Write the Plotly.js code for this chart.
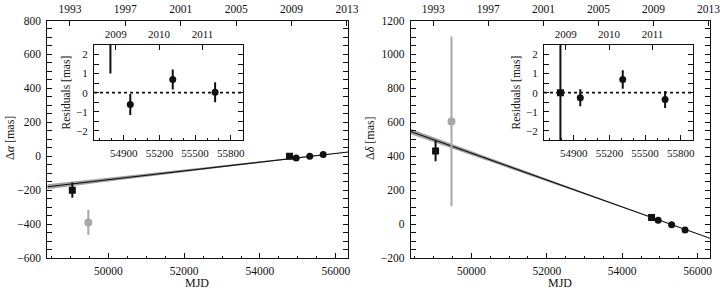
<!DOCTYPE html>
<html>
<head>
<meta charset="utf-8">
<script src="https://cdn.plot.ly/plotly-3.0.1.min.js"></script>
<style>html,body{margin:0;padding:0;background:#fff}
#page{position:relative;width:725px;height:291px;overflow:hidden}
.layer{position:absolute}</style>
</head>
<body>
<div id="page">
<div id="leftMain" class="layer" style="left:0px;top:0px;width:362px;height:291px"></div>
<div id="rightMain" class="layer" style="left:362px;top:0px;width:363px;height:291px"></div>
<div id="leftInset" class="layer" style="left:52px;top:28px;width:200px;height:134px"></div>
<div id="rightInset" class="layer" style="left:502px;top:28px;width:200px;height:134px"></div>
</div>
<script>
// ---- data ----
const squareMJD = [49050, 54780];
const circleMJD = [54955, 55312, 55668];
const grayMJD = [49472];

const squareRA = [-200, 0];
const squareRAerr = [45, 4];
const circleRA = [-10, 0, 10];
const circleRAerr = [0.5, 0.5, 0.5];
const grayRA = [-390];
const grayRAerr = [75];

const squareDE = [431, 39];
const squareDEerr = [60, 4];
const circleDE = [23, -4, -35];
const circleDEerr = [0.5, 0.5, 0.5];
const grayDE = [605];
const grayDEerr = [500];

const fitMJD = [48390, 50000, 52000, 54000, 55300, 56330];
const fitRA = [-180, -138, -87, -35, -2, 25];
const fitRAsig = [15, 11, 7, 3, 1, 1.5];
const fitDE = [546, 418, 260, 101, -2, -84];
const fitDEsig = [16, 11, 7, 3, 1, 1.5];

const resSquareMJD = [54788];
const resSquareRA = [3.8];
const resSquareRAerr = [2.8];
const resSquareDE = [0];
const resSquareDEerr = [4];
const resCircleMJD = [54955, 55312, 55668];
const resRA = [-0.62, 0.69, 0.02];
const resRAerr = [0.55, 0.53, 0.53];
const resDE = [-0.27, 0.69, -0.36];
const resDEerr = [0.45, 0.48, 0.45];

const mainYears = [1993, 1997, 2001, 2005, 2009, 2013];
const insetYears = [2009, 2010, 2011];

// ---- helpers ----
const yearToMJD = y => Date.UTC(y, 0, 1) / 86400000 + 40587;
const FONT = 'Liberation Serif';
const INK = '#111';
const GRAYPT = '#a8a8a8';

function band(xa, ya, sa) {
  const up = ya.map((v, i) => v + sa[i]);
  const lo = ya.map((v, i) => v - sa[i]);
  return {x: xa.concat(xa.slice().reverse()), y: up.concat(lo.reverse()),
    mode: 'lines', fill: 'toself', fillcolor: 'rgba(140,140,140,0.8)',
    line: {width: 0}, hoverinfo: 'skip', type: 'scatter'};
}
function pts(x, y, e, sym, size, color) {
  return {x: x, y: y, type: 'scatter', mode: 'markers',
    marker: {symbol: sym, size: size, color: color},
    error_y: {type: 'data', array: e, visible: true, color: color, thickness: 2, width: 0}};
}
const fitLine = (x, y) => ({x: x, y: y, type: 'scatter', mode: 'lines', line: {color: INK, width: 1.1}});
const topAxisTrace = {x: [], y: [], xaxis: 'x2', yaxis: 'y', type: 'scatter'};

const mainRange = [48390, 56330];
const insetRange = [54650, 55900];
const tickFont = {family: FONT, size: 11.5, color: INK};
const insetFont = {family: FONT, size: 11, color: INK};

// Each figure lives in its own box; page coordinates are converted to that box.
function box(left, top, w, h) {
  return {
    dx: (a, b) => [(a - left) / w, (b - left) / w],
    dy: (t, b) => [1 - (b - top) / h, 1 - (t - top) / h],
    px: x => (x - left) / w,
    py: y => 1 - (y - top) / h,
    w: w, h: h
  };
}

function xBottom(domain, range, dtick, tick0, minorD, font) {
  return {domain: domain, anchor: 'y', range: range, side: 'bottom',
    showline: true, linecolor: INK, linewidth: 1, mirror: true, showgrid: false, zeroline: false,
    ticks: 'inside', ticklen: 5, tickcolor: INK, tickwidth: 1, ticklabeloverflow: 'allow',
    dtick: dtick, tick0: tick0, tickformat: 'd', tickfont: font, ticklabelstandoff: 2,
    minor: {ticks: 'inside', ticklen: 2.5, dtick: minorD, tick0: tick0, tickcolor: INK, showgrid: false}};
}
function xTop(range, years, font) {
  return {overlaying: 'x', anchor: 'y', side: 'top', range: range,
    showline: true, linecolor: INK, linewidth: 1, showgrid: false, zeroline: false,
    ticks: 'inside', ticklen: 5, tickcolor: INK, tickwidth: 1, ticklabeloverflow: 'allow',
    tickmode: 'array', tickvals: years.map(yearToMJD), ticktext: years.map(String),
    tickfont: font, ticklabelstandoff: 2};
}
function yAxis(domain, range, dtick, minorD, font) {
  return {domain: domain, anchor: 'x', range: range,
    showline: true, linecolor: INK, linewidth: 1, mirror: 'allticks', showgrid: false, zeroline: false,
    ticks: 'inside', ticklen: 5, tickcolor: INK, tickwidth: 1, ticklabeloverflow: 'allow',
    dtick: dtick, tick0: 0, tickfont: font, ticklabelstandoff: 3,
    minor: {ticks: 'inside', ticklen: 2.5, dtick: minorD, tick0: 0, tickcolor: INK, showgrid: false}};
}
const ann = (b, text, x, y, angle, size) => ({text: text, xref: 'paper', yref: 'paper', x: b.px(x), y: b.py(y),
  xanchor: 'center', yanchor: 'middle', textangle: angle, showarrow: false,
  font: {family: FONT, size: size, color: INK}});

function baseLayout(b, paper, xa, x2, ya, annotations, shapes) {
  return {width: b.w, height: b.h, margin: {l: 0, r: 0, t: 0, b: 0, pad: 0},
    paper_bgcolor: paper, plot_bgcolor: '#fff', showlegend: false,
    font: {family: FONT, color: INK},
    xaxis: xa, xaxis2: x2, yaxis: ya, annotations: annotations || [], shapes: shapes || []};
}
const zeroLine = {type: 'line', xref: 'x domain', x0: 0, x1: 1, yref: 'y', y0: 0, y1: 0,
  line: {color: INK, width: 1.6, dash: 'dot'}};
const cfg = {staticPlot: true, displayModeBar: false};

// left main panel
const bL = box(0, 0, 362, 291);
Plotly.newPlot('leftMain', [
  band(fitMJD, fitRA, fitRAsig),
  fitLine(fitMJD, fitRA),
  pts(grayMJD, grayRA, grayRAerr, 'circle', 8, GRAYPT),
  pts(squareMJD, squareRA, squareRAerr, 'square', 7, INK),
  pts(circleMJD, circleRA, circleRAerr, 'circle', 7, INK),
  topAxisTrace
], baseLayout(bL, '#fff',
  xBottom(bL.dx(47.3, 348.3), mainRange, 2000, 0, 500, tickFont),
  xTop(mainRange, mainYears, tickFont),
  yAxis(bL.dy(20.5, 258), [-600, 800], 200, 50, tickFont),
  [ann(bL, 'Δ<i>α</i> [mas]', 10, 138, -90, 12), ann(bL, 'MJD', 197, 283, 0, 12)]), cfg);

// right main panel
const bR = box(362, 0, 363, 291);
Plotly.newPlot('rightMain', [
  band(fitMJD, fitDE, fitDEsig),
  fitLine(fitMJD, fitDE),
  pts(grayMJD, grayDE, grayDEerr, 'circle', 8, GRAYPT),
  pts(squareMJD, squareDE, squareDEerr, 'square', 7, INK),
  pts(circleMJD, circleDE, circleDEerr, 'circle', 7, INK),
  topAxisTrace
], baseLayout(bR, '#fff',
  xBottom(bR.dx(410.7, 710), mainRange, 2000, 0, 500, tickFont),
  xTop(mainRange, mainYears, tickFont),
  yAxis(bR.dy(20.5, 258), [-200, 1200], 200, 50, tickFont),
  [ann(bR, 'Δ<i>δ</i> [mas]', 370, 138, -90, 12), ann(bR, 'MJD', 560, 283, 0, 12)]), cfg);

// left residual inset
const bLI = box(52, 28, 200, 134);
Plotly.newPlot('leftInset', [
  pts(resSquareMJD, resSquareRA, resSquareRAerr, 'square', 7, INK),
  pts(resCircleMJD, resRA, resRAerr, 'circle', 7, INK),
  topAxisTrace
], baseLayout(bLI, 'rgba(0,0,0,0)',
  xBottom(bLI.dx(94, 242.7), insetRange, 300, 54900, 100, insetFont),
  xTop(insetRange, insetYears, insetFont),
  yAxis(bLI.dy(45, 140.3), [-2.5, 2.5], 1, 0.5, insetFont),
  [ann(bLI, 'Residuals [mas]', 65, 92.5, -90, 11.5)], [zeroLine]), cfg);

// right residual inset
const bRI = box(502, 28, 200, 134);
Plotly.newPlot('rightInset', [
  pts(resSquareMJD, resSquareDE, resSquareDEerr, 'square', 7, INK),
  pts(resCircleMJD, resDE, resDEerr, 'circle', 7, INK),
  topAxisTrace
], baseLayout(bRI, 'rgba(0,0,0,0)',
  xBottom(bRI.dx(544, 692.7), insetRange, 300, 54900, 100, insetFont),
  xTop(insetRange, insetYears, insetFont),
  yAxis(bRI.dy(45, 140.3), [-2.5, 2.5], 1, 0.5, insetFont),
  [ann(bRI, 'Residuals [mas]', 515, 92.5, -90, 11.5)], [zeroLine]), cfg);
</script>
</body>
</html>
